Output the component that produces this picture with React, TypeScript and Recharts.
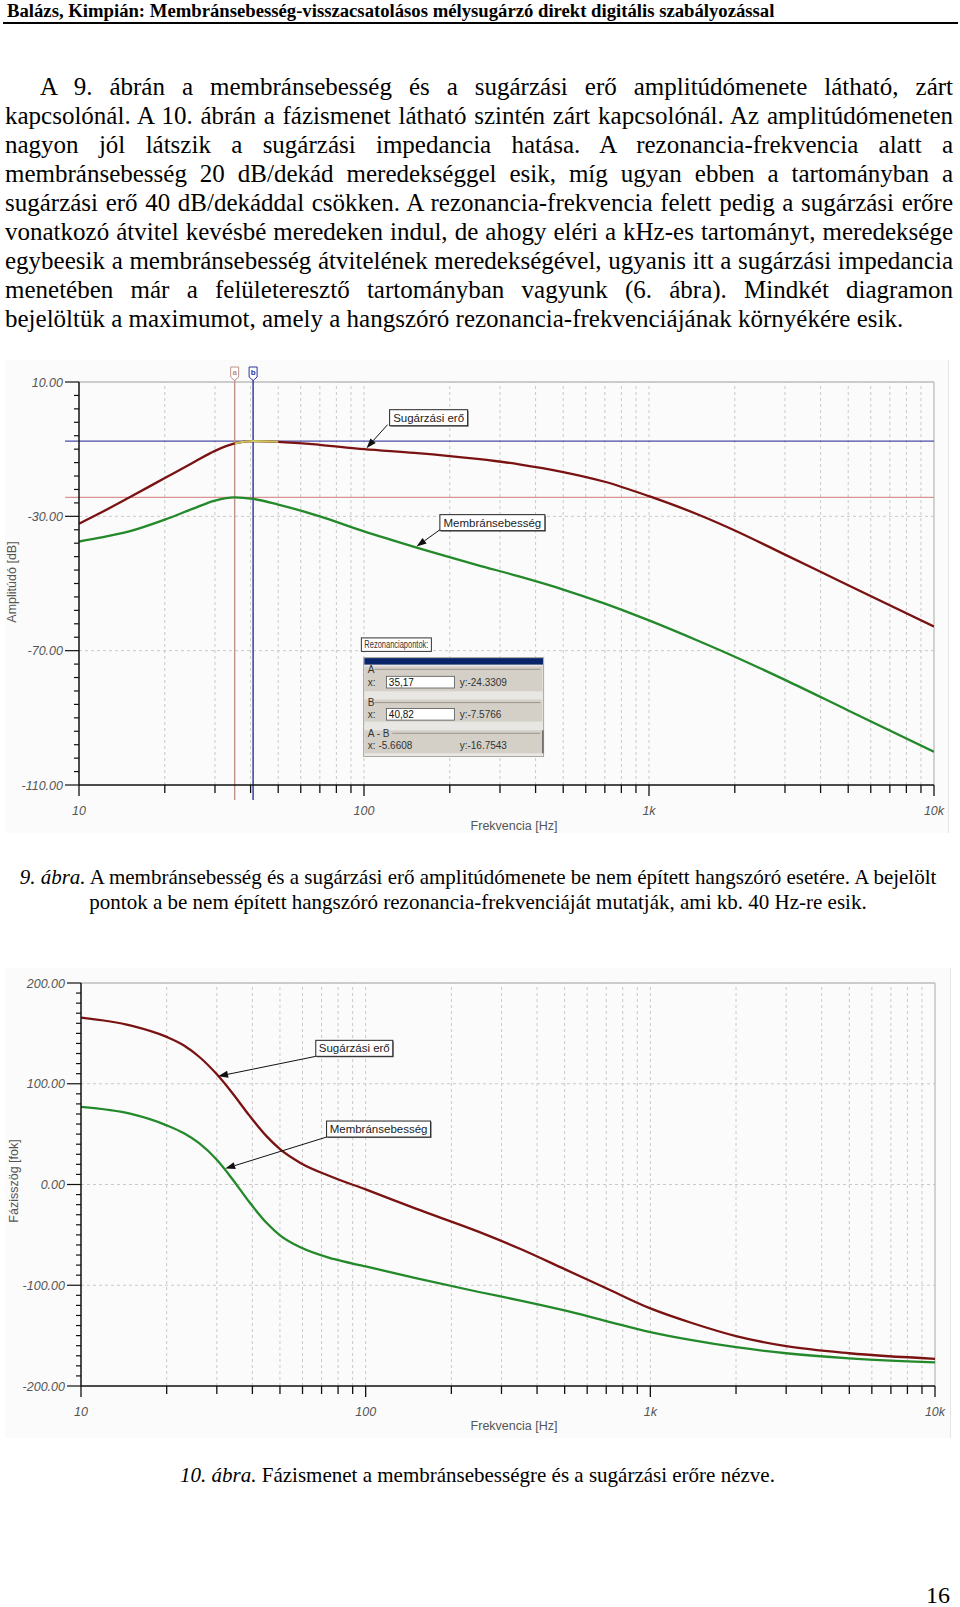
import React from "react";
import { LineChart, Line, XAxis, YAxis, ReferenceLine, ReferenceDot } from "recharts";

// 9. ábra – amplitúdómenet [dB]
const ampFreq = [10, 12, 15, 20, 25, 30, 35.17, 40.82, 50, 70, 100, 150, 250, 350, 500, 700, 1000, 1500, 2000, 3000, 5000, 10000];
const ampEro = [-32.2, -28.8, -24.4, -18.6, -14.1, -10.5, -8.3, -7.58, -7.8, -8.7, -10.0, -11.1, -12.9, -14.5, -16.8, -19.7, -24.0, -29.6, -34.2, -41.4, -50.5, -62.8];
const ampMembran = [-37.5, -36.3, -34.5, -31.0, -27.8, -25.3, -24.33, -24.8, -26.5, -30.0, -34.5, -39.1, -44.5, -47.9, -51.8, -56.0, -61.0, -67.2, -71.8, -78.7, -87.8, -100.1];

// 10. ábra – fázismenet [fok]
const phaseFreq = [10, 15, 20, 23, 26, 30, 34, 39, 45, 50, 59, 77, 100, 150, 250, 350, 500, 700, 1000, 1400, 2000, 3000, 5000, 10000];
const phaseEro = [165.6, 157.7, 146.5, 138.0, 126.8, 109.4, 90.9, 68.6, 47.5, 35.1, 21.4, 7.0, -4.9, -24, -47, -64, -84, -103, -123, -137.5, -150.5, -160.5, -167.5, -173];
const phaseMembran = [77, 70.0, 58.7, 50.8, 41.0, 24.5, 5.5, -17.4, -38.5, -50.4, -62.3, -73.9, -81.3, -92.9, -106.7, -115.2, -125, -135.5, -146.5, -154.5, -161.5, -167.5, -172.5, -176.5];

const freqTicks = [10, 20, 30, 40, 50, 60, 70, 80, 90, 100, 200, 300, 400, 500, 600, 700, 800, 900, 1000, 2000, 3000, 4000, 5000, 6000, 7000, 8000, 9000, 10000];
const freqLabels: Record<number, string> = { 10: "10", 100: "100", 1000: "1k", 10000: "10k" };
const ampMajor = [-110, -70, -30, 10];
const phaseMajor = [-200, -100, 0, 100, 200];
const ampMinor = Array.from({ length: 31 }, (_, i) => -110 + 4 * i);
const phaseMinor = Array.from({ length: 41 }, (_, i) => -200 + 10 * i);

// rezonanciapontok (kurzorok)
const cursorA = { f: 35.17, v: -24.3309 };
const cursorB = { f: 40.82, v: -7.5766 };

const paraLines = [
  "A 9. ábrán a membránsebesség és a sugárzási erő amplitúdómenete látható, zárt",
  "kapcsolónál. A 10. ábrán a fázismenet látható szintén zárt kapcsolónál. Az amplitúdómeneten",
  "nagyon jól látszik a sugárzási impedancia hatása. A rezonancia-frekvencia alatt a",
  "membránsebesség 20 dB/dekád meredekséggel esik, míg ugyan ebben a tartományban a",
  "sugárzási erő 40 dB/dekáddal csökken. A rezonancia-frekvencia felett pedig a sugárzási erőre",
  "vonatkozó átvitel kevésbé meredeken indul, de ahogy eléri a kHz-es tartományt, meredeksége",
  "egybeesik a membránsebesség átvitelének meredekségével, ugyanis itt a sugárzási impedancia",
  "menetében már a felületeresztő tartományban vagyunk (6. ábra). Mindkét diagramon",
  "bejelöltük a maximumot, amely a hangszóró rezonancia-frekvenciájának környékére esik.",
];

const ampData = ampFreq.map((f, i) => ({ f, ero: ampEro[i], membran: ampMembran[i] }));
const phaseData = phaseFreq.map((f, i) => ({ f, ero: phaseEro[i], membran: phaseMembran[i] }));
const peakData = ampData.filter((d) => d.f >= 35.17 && d.f <= 50);

const sans = "'Liberation Sans', Arial, sans-serif";
const serif = "'Liberation Serif', 'Times New Roman', serif";
const RED = "#7a1212";
const GREEN = "#23892a";
const GRID = "#c9c9c9";

function FreqTick({ x, y, payload }: any) {
  const label = freqLabels[payload.value];
  return (
    <g>
      <line x1={x} y1={y} x2={x} y2={y + (label ? 11 : 8)} stroke="#111" strokeWidth={1.3} />
      {label && (
        <text x={x} y={y + 30} textAnchor="middle" fontFamily={sans} fontStyle="italic" fontSize={12.5} fill="#555">
          {label}
        </text>
      )}
    </g>
  );
}

function makeValueTick(majors: number[]) {
  return ({ x, y, payload }: any) => {
    const major = majors.includes(payload.value);
    return (
      <g>
        <line x1={x} y1={y} x2={x - (major ? 14 : 5)} y2={y} stroke="#111" strokeWidth={1.2} />
        {major && (
          <text x={x - 16} y={y + 4.5} textAnchor="end" fontFamily={sans} fontStyle="italic" fontSize={12.5} fill="#555">
            {payload.value.toFixed(2)}
          </text>
        )}
      </g>
    );
  };
}

function ArrowShape({ x1, y1, x2, y2 }: any) {
  const dx = x2 - x1;
  const dy = y2 - y1;
  const len = Math.hypot(dx, dy) || 1;
  const ux = dx / len;
  const uy = dy / len;
  const bx = x2 - ux * 10;
  const by = y2 - uy * 10;
  const px = -uy * 3.5;
  const py = ux * 3.5;
  return (
    <g>
      <line x1={x1} y1={y1} x2={bx} y2={by} stroke="#111" strokeWidth={1} />
      <polygon points={`${x2},${y2} ${bx + px},${by + py} ${bx - px},${by - py}`} fill="#111" />
    </g>
  );
}

function noteShape(text: string, w: number) {
  return ({ cx, cy }: any) => (
    <g>
      <rect x={cx + 1} y={cy + 1} width={w} height={16} fill="#777" />
      <rect x={cx} y={cy} width={w} height={16} fill="#fff" stroke="#222" strokeWidth={1} />
      <text x={cx + w / 2} y={cy + 12} textAnchor="middle" fontFamily={sans} fontSize={11.5} fill="#222">
        {text}
      </text>
    </g>
  );
}

function cursorShape(color: string, letter: string) {
  return (p: any) => {
    const x = p.x1;
    const top = Math.min(p.y1, p.y2);
    const bottom = Math.max(p.y1, p.y2);
    return (
      <g>
        <line x1={x} y1={top - 2} x2={x} y2={bottom + 15} stroke={color} strokeWidth={1.4} />
        <polygon
          points={`${x - 4},${top - 15} ${x + 4},${top - 15} ${x + 4},${top - 5} ${x},${top - 1.5} ${x - 4},${top - 5}`}
          fill="#fff"
          stroke={color}
          strokeWidth={1}
        />
        <text x={x} y={top - 7} textAnchor="middle" fontFamily={sans} fontSize={8} fontWeight="bold" fill={color}>
          {letter}
        </text>
      </g>
    );
  };
}

function levelShape(color: string) {
  return (p: any) => (
    <line x1={Math.min(p.x1, p.x2) - 14} y1={p.y1} x2={Math.max(p.x1, p.x2)} y2={p.y2} stroke={color} strokeWidth={1.3} />
  );
}

function ResonancePanel({ cx, cy }: any) {
  const t = (x: number, y: number, s: string, fill = "#333") => (
    <text x={cx + x} y={cy + y} fontFamily={sans} fontSize={10} fill={fill}>
      {s}
    </text>
  );
  const group = (y0: number, h: number, label: string, lx: number) => (
    <g>
      <rect x={cx + 3} y={cy + y0} width={178} height={h} fill="#d4d0c8" />
      <line x1={cx + lx} y1={cy + y0 + 3} x2={cx + 179} y2={cy + y0 + 3} stroke="#9a968e" strokeWidth={1} />
      {t(6.5, y0 + 6.5, label)}
    </g>
  );
  return (
    <g>
      <rect x={cx} y={cy} width={70} height={13.5} fill="#fff" stroke="#333" strokeWidth={1} />
      <text x={cx + 3} y={cy + 10.5} fontFamily={sans} fontSize={10} fill="#333" textLength={64} lengthAdjust="spacingAndGlyphs">
        Rezonanciapontok:
      </text>
      <rect x={cx + 2.3} y={cy + 19.7} width={180} height={99} fill="#e9e7e3" stroke="#9a968e" strokeWidth={0.8} />
      <rect x={cx + 3} y={cy + 20.2} width={178.6} height={6.5} fill="#0a246a" />
      {group(28.4, 25, "A", 13)}
      {t(6.5, 48.5, "x:")}
      <rect x={cx + 25} y={cy + 38.4} width={68} height={11.7} fill="#fff" stroke="#555" strokeWidth={0.8} />
      {t(27.5, 48.2, "35,17", "#111")}
      {t(98.3, 48.2, "y:-24.3309")}
      {group(61.7, 22, "B", 13)}
      {t(6.5, 80.5, "x:")}
      <rect x={cx + 25} y={cy + 70.5} width={68} height={11.7} fill="#fff" stroke="#555" strokeWidth={0.8} />
      {t(27.5, 80.2, "40,82", "#111")}
      {t(98.3, 80.2, "y:-7.5766")}
      {group(92.4, 23, "A - B", 31)}
      {t(6.5, 111, "x: -5.6608")}
      {t(98.3, 111, "y:-16.7543")}
      <line x1={cx + 181.5} y1={cy + 92.4} x2={cx + 181.5} y2={cy + 115.4} stroke="#333" strokeWidth={1} />
    </g>
  );
}

const gridFreqs = freqTicks.filter((f) => f !== 10 && f !== 10000);

function AmplitudeChart() {
  return (
    <LineChart width={960} height={480} data={ampData} margin={{ top: 22, right: 26, left: 0, bottom: 0 }}>
      <XAxis
        dataKey="f"
        type="number"
        scale="log"
        domain={[10, 10000]}
        allowDataOverflow
        ticks={freqTicks}
        interval={0}
        tickSize={0}
        tickMargin={0}
        tickLine={false}
        tick={<FreqTick />}
        height={55}
        axisLine={{ stroke: "#111", strokeWidth: 1.5 }}
      />
      <YAxis
        type="number"
        domain={[-110, 10]}
        allowDataOverflow
        ticks={ampMinor}
        interval={0}
        tickSize={0}
        tickMargin={0}
        tickLine={false}
        tick={makeValueTick(ampMajor)}
        width={79}
        axisLine={{ stroke: "#111", strokeWidth: 1.5 }}
      />
      {ampMajor.slice(1, 3).map((v) => (
        <ReferenceLine key={`h${v}`} y={v} stroke={GRID} strokeDasharray="3 3" />
      ))}
      {gridFreqs.map((f) => (
        <ReferenceLine key={`v${f}`} x={f} stroke={GRID} strokeDasharray="3 3" />
      ))}
      <ReferenceLine y={10} stroke="#bcbcbc" strokeWidth={1.3} />
      <ReferenceLine x={10000} stroke="#bcbcbc" strokeWidth={1.3} />
      <ReferenceLine y={cursorB.v} shape={levelShape("#4b4ba6")} />
      <ReferenceLine y={cursorA.v} shape={levelShape("#d99494")} />
      <ReferenceLine x={cursorA.f} shape={cursorShape("#c0918a", "a")} />
      <ReferenceLine x={cursorB.f} shape={cursorShape("#2f2fa0", "b")} />
      <Line type="monotone" dataKey="ero" stroke={RED} strokeWidth={2.3} dot={false} isAnimationActive={false} />
      <Line type="monotone" dataKey="membran" stroke={GREEN} strokeWidth={2.3} dot={false} isAnimationActive={false} />
      <Line type="monotone" data={peakData} dataKey="ero" stroke="#c9c75a" strokeWidth={2} dot={false} isAnimationActive={false} />
      <ReferenceDot x={123} y={1.75} r={0} shape={noteShape("Sugárzási erő", 78)} />
      <ReferenceLine segment={[{ x: 121, y: -2.7 }, { x: 102, y: -9.7 }]} shape={(p: any) => <ArrowShape {...p} />} />
      <ReferenceDot x={184.6} y={-29.5} r={0} shape={noteShape("Membránsebesség", 105)} />
      <ReferenceLine segment={[{ x: 184.6, y: -34 }, { x: 152.8, y: -39 }]} shape={(p: any) => <ArrowShape {...p} />} />
      <ReferenceDot x={97.9} y={-66.2} r={0} shape={(p: any) => <ResonancePanel {...p} />} />
    </LineChart>
  );
}

function PhaseChart() {
  return (
    <LineChart width={960} height={480} data={phaseData} margin={{ top: 23, right: 25, left: 0, bottom: 0 }}>
      <XAxis
        dataKey="f"
        type="number"
        scale="log"
        domain={[10, 10000]}
        allowDataOverflow
        ticks={freqTicks}
        interval={0}
        tickSize={0}
        tickMargin={0}
        tickLine={false}
        tick={<FreqTick />}
        height={54}
        axisLine={{ stroke: "#111", strokeWidth: 1.5 }}
      />
      <YAxis
        type="number"
        domain={[-200, 200]}
        allowDataOverflow
        ticks={phaseMinor}
        interval={0}
        tickSize={0}
        tickMargin={0}
        tickLine={false}
        tick={makeValueTick(phaseMajor)}
        width={81}
        axisLine={{ stroke: "#111", strokeWidth: 1.5 }}
      />
      {phaseMajor.slice(1, 4).map((v) => (
        <ReferenceLine key={`h${v}`} y={v} stroke={GRID} strokeDasharray="3 3" />
      ))}
      {gridFreqs.map((f) => (
        <ReferenceLine key={`v${f}`} x={f} stroke={GRID} strokeDasharray="3 3" />
      ))}
      <ReferenceLine y={200} stroke="#bcbcbc" strokeWidth={1.3} />
      <ReferenceLine x={10000} stroke="#bcbcbc" strokeWidth={1.3} />
      <Line type="monotone" dataKey="ero" stroke={RED} strokeWidth={2.3} dot={false} isAnimationActive={false} />
      <Line type="monotone" dataKey="membran" stroke={GREEN} strokeWidth={2.3} dot={false} isAnimationActive={false} />
      <ReferenceDot x={66.8} y={143.1} r={0} shape={noteShape("Sugárzási erő", 77)} />
      <ReferenceLine segment={[{ x: 66.8, y: 127.2 }, { x: 30.3, y: 107.4 }]} shape={(p: any) => <ArrowShape {...p} />} />
      <ReferenceDot x={72.9} y={63} r={0} shape={noteShape("Membránsebesség", 104)} />
      <ReferenceLine segment={[{ x: 72.9, y: 47.1 }, { x: 32.1, y: 15.8 }]} shape={(p: any) => <ArrowShape {...p} />} />
    </LineChart>
  );
}

const abs = (left: number, top: number, extra: React.CSSProperties = {}): React.CSSProperties => ({
  position: "absolute",
  left,
  top,
  ...extra,
});

function AxisTitle({ x, y, text, rotate }: { x: number; y: number; text: string; rotate?: boolean }) {
  return (
    <div
      style={abs(x, y, {
        transform: `translate(-50%, -50%)${rotate ? " rotate(-90deg)" : ""}`,
        fontFamily: sans,
        fontSize: 12.5,
        color: "#555",
        whiteSpace: "nowrap",
      })}
    >
      {text}
    </div>
  );
}

export default function App() {
  return (
    <div style={{ position: "absolute", left: 0, top: 0, width: 960, height: 1607, background: "#fff", fontFamily: serif, color: "#000", overflow: "hidden" }}>
      <div style={abs(7, 0, { fontSize: 18.7, fontWeight: "bold", lineHeight: "21px", whiteSpace: "nowrap" })}>
        Balázs, Kimpián: Membránsebesség-visszacsatolásos mélysugárzó direkt digitális szabályozással
      </div>
      <div style={abs(3, 22, { width: 955, height: 2, background: "#000" })} />

      <div style={abs(5, 72, { width: 948, fontSize: 25, lineHeight: "29px" })}>
        {paraLines.map((l, i) => {
          const last = i === paraLines.length - 1;
          return (
            <div
              key={i}
              style={{
                textAlign: "justify",
                textAlignLast: last ? "left" : "justify",
                textIndent: i === 0 ? 35 : 0,
                wordSpacing: last ? 0 : -2,
              }}
            >
              {l}
            </div>
          );
        })}
      </div>

      <div style={abs(5, 360, { width: 943, height: 473, background: "#fbfbfb", borderRight: "1px solid #e4e4e4" })} />
      <div style={abs(0, 360)}>
        <AmplitudeChart />
      </div>
      <AxisTitle x={12} y={582} text="Amplitúdó [dB]" rotate />
      <AxisTitle x={514} y={826} text="Frekvencia [Hz]" />

      <div style={abs(0, 865, { width: 956, textAlign: "center", fontSize: 21, lineHeight: "24.6px" })}>
        <div>
          <i>9. ábra.</i> A membránsebesség és a sugárzási erő amplitúdómenete be nem épített hangszóró esetére. A bejelölt
        </div>
        <div>pontok a be nem épített hangszóró rezonancia-frekvenciáját mutatják, ami kb. 40 Hz-re esik.</div>
      </div>

      <div style={abs(5, 968, { width: 945, height: 470, background: "#fbfbfb", borderRight: "1px solid #e4e4e4" })} />
      <div style={abs(0, 960)}>
        <PhaseChart />
      </div>
      <AxisTitle x={14} y={1181} text="Fázisszög [fok]" rotate />
      <AxisTitle x={514} y={1426} text="Frekvencia [Hz]" />

      <div style={abs(0, 1463, { width: 955, textAlign: "center", fontSize: 21, lineHeight: "24px" })}>
        <i>10. ábra.</i> Fázismenet a membránsebességre és a sugárzási erőre nézve.
      </div>

      <div style={abs(926, 1585, { fontSize: 24, lineHeight: "20px" })}>16</div>
    </div>
  );
}
